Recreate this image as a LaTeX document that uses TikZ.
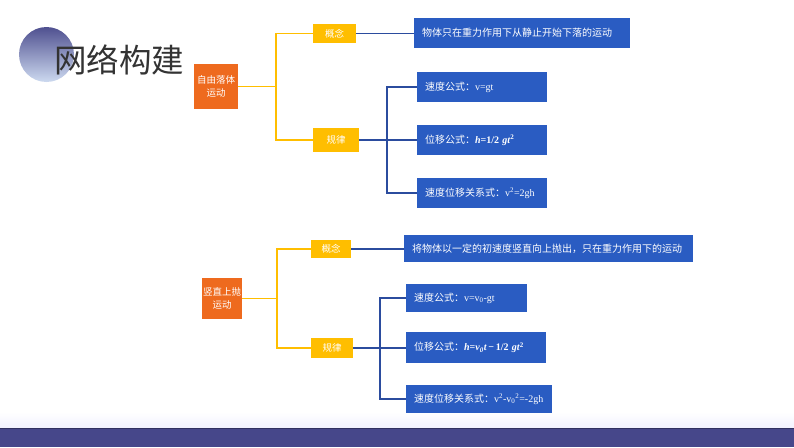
\documentclass[tikz,border=0pt]{standalone}
\usepackage{fontspec}
\setmainfont{Liberation Serif}
\newfontfamily\cjk{Noto Sans CJK SC}
\definecolor{orangebox}{HTML}{EE6A1E}
\definecolor{yellowbox}{HTML}{FFBE00}
\definecolor{bluebox}{HTML}{2A5CC2}
\definecolor{blueline}{HTML}{2B4C9E}
\definecolor{barcol}{HTML}{46478A}
\definecolor{titlecol}{HTML}{333333}
\tikzset{
  orangenode/.style={fill=orangebox, text=white, inner sep=0pt, align=center,
    font=\cjk\fontsize{9.5}{13}\selectfont},
  yellownode/.style={fill=yellowbox, text=white, inner sep=0pt,
    font=\cjk\fontsize{9.5}{11}\selectfont},
  bluenode/.style={fill=bluebox, text=white, inner ysep=0pt, inner xsep=8pt, align=left,
    font=\fontsize{10}{12}\selectfont},
  yline/.style={draw=yellowbox, line width=1.6pt},
  bline/.style={draw=blueline, line width=1.6pt},
}
\newcommand{\zh}[1]{{\cjk #1}}
\begin{document}
\begin{tikzpicture}[x=1pt,y=-1pt]
\useasboundingbox (0,0) rectangle (794,447);
\fill[white] (0,0) rectangle (794,447);
% bottom
\shade[top color=white, bottom color=blue!5] (0,412) rectangle (794,428);
\fill[barcol] (0,428) rectangle (794,447);
\draw[barcol!70!black, line width=0.8pt] (0,428) -- (794,428);
% title
\shade[top color=barcol!95, bottom color={rgb,255:red,205;green,218;blue,240}] (46.5,54.5) circle (27.5);
\node[text=titlecol, font=\cjk\fontsize{32.5}{34}\selectfont, anchor=west, inner sep=0pt] (title) at (54,60) {网络构建};

% ---------- group 1 ----------
\node[orangenode, minimum width=44pt, minimum height=45pt] (o1) at (216,86.5) {自由落体\\运动};
\node[yellownode, minimum width=43pt, minimum height=19pt] (g1a) at (334.5,33.5) {概念};
\node[yellownode, minimum width=46pt, minimum height=24pt] (g1b) at (336,140) {规律};
\node[bluenode, text width=200pt, minimum height=30pt] (b1) at (522,33) {\zh{物体只在重力作用下从静止开始下落的运动}};
\node[bluenode, text width=114pt, minimum height=30pt] (b2) at (482,87) {\zh{速度公式：}v=gt};
\node[bluenode, text width=114pt, minimum height=30pt] (b3) at (482,140) {\zh{位移公式：}\textbf{\textit{h}=1/2 \textit{gt}\textsuperscript{2}}};
\node[bluenode, text width=114pt, minimum height=30pt] (b4) at (482,193) {\zh{速度位移关系式：}v\textsuperscript{2}=2gh};
\coordinate (t1) at (276,0);
\coordinate (u1) at (387,0);
\draw[yline] (o1.east) -- (o1.east -| t1);
\draw[yline] (g1a.west) -- (g1a.west -| t1) -- (g1b.west -| t1) -- (g1b.west);
\draw[bline] (g1a.east) -- (g1a.east -| b1.west);
\draw[bline] (g1b.east) -- (b3.west);
\draw[bline] (b2.west) -- (b2.west -| u1) -- (b4.west -| u1) -- (b4.west);

% ---------- group 2 ----------
\node[orangenode, minimum width=40pt, minimum height=41pt] (o2) at (222,298.5) {竖直上抛\\运动};
\node[yellownode, minimum width=40pt, minimum height=18pt] (g2a) at (331,249) {概念};
\node[yellownode, minimum width=42pt, minimum height=20pt] (g2b) at (332,348) {规律};
\node[bluenode, text width=273pt, minimum height=27pt] (b5) at (548.5,248.5) {\zh{将物体以一定的初速度竖直向上抛出，只在重力作用下的运动}};
\node[bluenode, text width=105pt, minimum height=28pt] (b6) at (466.5,298) {\zh{速度公式：}v=v\textsubscript{0}-gt};
\node[bluenode, text width=124pt, minimum height=31pt] (b7) at (476,347.5) {\zh{位移公式：}\textbf{\textit{h}=\textit{v}\textsubscript{\textit{0}}\textit{t}\,−\,1/2 \textit{gt}\textsuperscript{2}}};
\node[bluenode, text width=130pt, minimum height=28pt] (b8) at (479,399) {\zh{速度位移关系式：}v\textsuperscript{2}-v\textsubscript{0}\textsuperscript{2}=-2gh};
\coordinate (t2) at (277,0);
\coordinate (u2) at (380,0);
\draw[yline] (o2.east) -- (o2.east -| t2);
\draw[yline] (g2a.west) -- (g2a.west -| t2) -- (g2b.west -| t2) -- (g2b.west);
\draw[bline] (g2a.east) -- (g2a.east -| b5.west);
\draw[bline] (g2b.east) -- (g2b.east -| b7.west);
\draw[bline] (b6.west) -- (b6.west -| u2) -- (b8.west -| u2) -- (b8.west);
\end{tikzpicture}
\end{document}
